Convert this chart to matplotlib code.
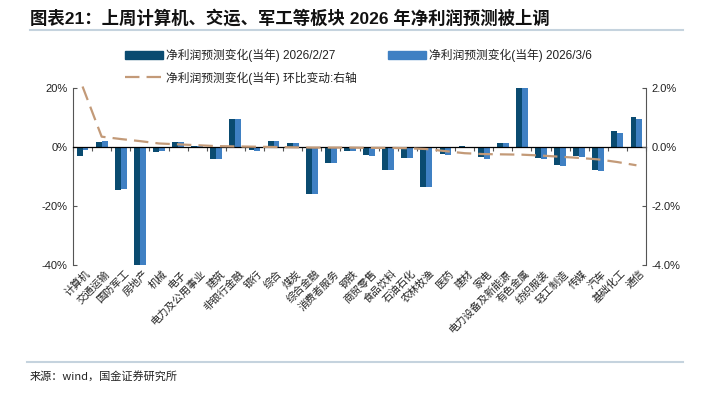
import numpy as np
import matplotlib
matplotlib.use("Agg")
import matplotlib.pyplot as plt
from matplotlib.lines import Line2D
from matplotlib.patches import Patch
from matplotlib.ticker import FuncFormatter
import matplotlib.transforms as mtransforms

plt.rcParams['font.family'] = ['Liberation Sans', 'Noto Sans CJK SC', 'DejaVu Sans']

# 行业
sectors = ['计算机', '交通运输', '国防军工', '房地产', '机械', '电子', '电力及公用事业', '建筑',
           '非银行金融', '银行', '综合', '煤炭', '综合金融', '消费者服务', '钢铁', '商贸零售',
           '食品饮料', '石油石化', '农林牧渔', '医药', '建材', '家电', '电力设备及新能源',
           '有色金属', '纺织服装', '轻工制造', '传媒', '汽车', '基础化工', '通信']
# 净利润预测变化(当年) 2026/2/27, %
chg_0227 = [-3.2, 1.6, -14.7, -40.0, -1.7, 1.6, 0.5, -4.0, 9.6, -1.1, 1.9, 1.5, -15.8, -5.4, -1.5,
            -2.8, -7.9, -3.6, -13.6, -2.5, 0.2, -3.4, 1.5, 20.0, -3.7, -6.2, -3.2, -7.7, 5.3, 10.2]
# 净利润预测变化(当年) 2026/3/6, %
chg_0306 = [-0.9, 2.0, -14.4, -40.0, -1.5, 1.6, 0.3, -3.9, 9.6, -1.2, 1.9, 1.4, -15.8, -5.4, -1.4,
            -2.9, -7.9, -3.6, -13.6, -2.7, 0.1, -3.9, 1.2, 20.0, -3.9, -6.5, -3.4, -8.1, 4.7, 9.4]
# 环比变动 (右轴), %
wow = [2.05, 0.35, 0.27, 0.20, 0.12, 0.09, 0.06, 0.03, 0.02, 0.01, 0.0, -0.01, -0.02, -0.02, -0.02,
       -0.03, -0.03, -0.04, -0.07, -0.14, -0.21, -0.24, -0.25, -0.26, -0.29, -0.33, -0.37, -0.42,
       -0.51, -0.62]

c_dark = '#0A4B70'
c_light = '#3F80C3'
c_line = '#C39A78'
txt = '#222222'

fig = plt.figure(figsize=(7.12, 4.01), dpi=100)
ax = fig.add_axes([73/712, 1-265/401, 573/712, 177/401])
ax2 = ax.twinx()

x = np.arange(len(sectors))
w = 0.31
ax.bar(x - w/2, chg_0227, w, color=c_dark, zorder=2)
ax.bar(x + w/2, chg_0306, w, color=c_light, zorder=2)
ax2.plot(x, wow, color=c_line, lw=1.6, dashes=(6.5, 3.2), clip_on=False, zorder=3)

ax.set_xlim(-0.5, len(sectors) - 0.5)
ax.set_ylim(-40, 20)
ax.set_yticks([-40, -20, 0, 20])
ax.yaxis.set_major_formatter(FuncFormatter(lambda v, p: '%d%%' % v))
ax2.set_ylim(-4, 2)
ax2.set_yticks([-4, -2, 0, 2])
ax2.yaxis.set_major_formatter(FuncFormatter(lambda v, p: '%.1f%%' % v))

for a in (ax, ax2):
    a.spines['top'].set_visible(False)
    a.spines['bottom'].set_visible(False)
    a.spines['left'].set_color('#555555')
    a.spines['right'].set_color('#555555')
    a.tick_params(axis='y', direction='in', length=3, color='#555555', labelsize=8, labelcolor=txt, pad=4)
ax2.spines['left'].set_visible(False)
ax.spines['right'].set_visible(False)

# zero line with ticks between categories
ax.spines['bottom'].set_visible(True)
ax.spines['bottom'].set_position(('data', 0))
ax.spines['bottom'].set_color('black')
ax.spines['bottom'].set_linewidth(0.9)
ax.spines['bottom'].set_zorder(4)
ax.set_xticks(np.arange(len(sectors) + 1) - 0.5)
ax.set_xticklabels([])
ax.tick_params(axis='x', direction='out', length=3, color='#555555')

trans = mtransforms.blended_transform_factory(ax.transData, ax.transAxes)
for i, s in enumerate(sectors):
    ax.text(i + 0.15, -0.02, s, transform=trans, rotation=45, ha='right', va='top',
            rotation_mode='anchor', fontsize=7.5, color=txt, family=['Noto Sans CJK SC'])

# legend
handles = [Patch(color=c_dark), Line2D([], [], color=c_line, lw=1.6, dashes=(6.5, 3.2)), Patch(color=c_light)]
labels = ['净利润预测变化(当年) 2026/2/27', '净利润预测变化(当年) 环比变动:右轴', '净利润预测变化(当年) 2026/3/6']
fig.legend(handles, labels, loc='upper left', bbox_to_anchor=(125/712, 1-49/401), ncol=2,
           frameon=False, fontsize=8.5, handlelength=3.2, handleheight=0.65, handletextpad=0.3,
           columnspacing=2.6, labelspacing=0.75, borderpad=0, borderaxespad=0, labelcolor=txt)

# title, rules and source
fig.text(30/712, 1-18/401, '图表21：上周计算机、交运、军工等板块 2026 年净利润预测被上调', fontsize=12.5,
         fontweight='bold', color='#111111', va='center', ha='left')
fig.add_artist(Line2D([30/712, 683/712], [1-30/401, 1-30/401], color='#C5D3DE', lw=1.5))
fig.add_artist(Line2D([27/712, 683/712], [1-362/401, 1-362/401], color='#C5D3DE', lw=1.5))
fig.text(30/712, 1-376/401, '来源：wind，国金证券研究所', fontsize=8, color=txt, va='center', ha='left',
         family=['Noto Sans CJK SC'])

fig.savefig('out.png', dpi=100)
